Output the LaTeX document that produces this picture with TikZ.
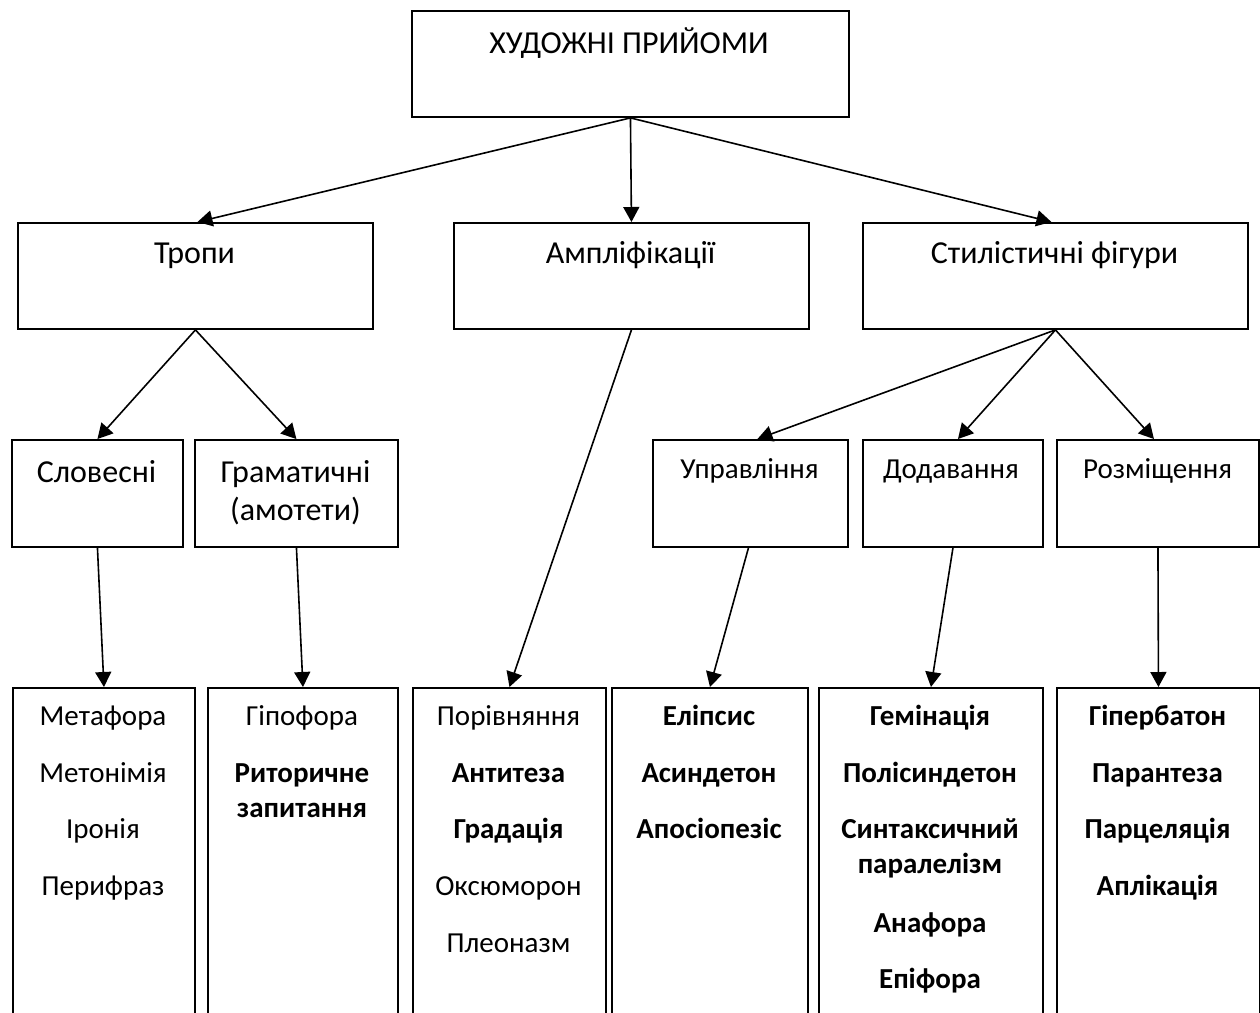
\documentclass[tikz,border=0pt]{standalone}
\usepackage{fontspec}
\setmainfont{Carlito}
\usetikzlibrary{arrows.meta}
\begin{document}
\begin{tikzpicture}[x=1pt,y=-1pt,
  box/.style={draw, line width=1.9pt, rectangle, inner sep=0pt, anchor=north west},
  conn/.style={line width=1.6pt, -{Triangle[length=15pt,width=16pt]}},
  big/.style={font=\fontsize{32}{38}\selectfont, anchor=base, inner sep=0pt},
  mid/.style={font=\fontsize{29}{35}\selectfont, anchor=base, inner sep=0pt},
  itm/.style={font=\fontsize{29}{35}\selectfont, anchor=base, inner sep=0pt},
  itmb/.style={font=\fontsize{29}{35}\selectfont\bfseries, anchor=base, inner sep=0pt}]
\useasboundingbox (0,0) rectangle (1260,1012);
\clip (0,0) rectangle (1260,1012);
\fill[white] (0,0) rectangle (1260,1012);
% boxes
\node[box, minimum width=437pt, minimum height=106pt] (top) at (411,10) {};
\node[box, minimum width=355pt, minimum height=106pt] (trop) at (17,222) {};
\node[box, minimum width=355pt, minimum height=106pt] (ampl) at (453,222) {};
\node[box, minimum width=385pt, minimum height=106pt] (stil) at (862,222) {};
\node[box, minimum width=171pt, minimum height=107pt] (slov) at (11,439) {};
\node[box, minimum width=203pt, minimum height=107pt] (gram) at (194,439) {};
\node[box, minimum width=195pt, minimum height=107pt] (upr) at (652,439) {};
\node[box, minimum width=180pt, minimum height=107pt] (dod) at (862,439) {};
\node[box, minimum width=202pt, minimum height=107pt] (rozm) at (1056,439) {};
\node[box, minimum width=182pt, minimum height=400pt] (b1) at (12,687) {};
\node[box, minimum width=190pt, minimum height=400pt] (b2) at (207,687) {};
\node[box, minimum width=193pt, minimum height=400pt] (b3) at (412,687) {};
\node[box, minimum width=196pt, minimum height=400pt] (b4) at (611,687) {};
\node[box, minimum width=224pt, minimum height=400pt] (b5) at (818,687) {};
\node[box, minimum width=203pt, minimum height=400pt] (b6) at (1056,687) {};
% headings
\node[big] (t-top) at (629,53) {ХУДОЖНІ ПРИЙОМИ};
\node[big] (t-trop) at (194.5,263) {Тропи};
\node[big] (t-ampl) at (630.5,263) {Ампліфікації};
\node[big] (t-stil) at (1054.5,263) {Стилістичні фігури};
\node[big] (t-slov) at (96.5,482) {Словесні};
\node[big] (t-gram1) at (295.5,482) {Граматичні};
\node[big] (t-gram2) at (295.5,520) {(амотети)};
\node[mid] (t-upr) at (749.5,478) {Управління};
\node[mid] (t-dod) at (951,478) {Додавання};
\node[mid] (t-rozm) at (1157.5,478) {Розміщення};
% column 1
\node[itm] (i11) at (103,725) {Метафора};
\node[itm] (i12) at (103,782) {Метонімія};
\node[itm] (i13) at (103,838) {Іронія};
\node[itm] (i14) at (103,895) {Перифраз};
% column 2
\node[itm] (i21) at (302,725) {Гіпофора};
\node[itmb] (i22) at (302,782) {Риторичне};
\node[itmb] (i23) at (302,817) {запитання};
% column 3
\node[itm] (i31) at (508.5,725) {Порівняння};
\node[itmb] (i32) at (508.5,782) {Антитеза};
\node[itmb] (i33) at (508.5,838) {Градація};
\node[itm] (i34) at (508.5,895) {Оксюморон};
\node[itm] (i35) at (508.5,952) {Плеоназм};
% column 4
\node[itmb] (i41) at (709,725) {Еліпсис};
\node[itmb] (i42) at (709,782) {Асиндетон};
\node[itmb] (i43) at (709,838) {Апосіопезіс};
% column 5
\node[itmb] (i51) at (930,725) {Гемінація};
\node[itmb] (i52) at (930,782) {Полісиндетон};
\node[itmb] (i53) at (930,838) {Синтаксичний};
\node[itmb] (i54) at (930,873) {паралелізм};
\node[itmb] (i55) at (930,932) {Анафора};
\node[itmb] (i56) at (930,988) {Епіфора};
% column 6
\node[itmb] (i61) at (1157.5,725) {Гіпербатон};
\node[itmb] (i62) at (1157.5,782) {Парантеза};
\node[itmb] (i63) at (1157.5,838) {Парцеляція};
\node[itmb] (i64) at (1157.5,895) {Аплікація};
% connectors
\draw[conn] (top.south) -- ([xshift=2pt]trop.north);
\draw[conn] (top.south) -- (ampl.north);
\draw[conn] (top.south) -- ([xshift=-4pt]stil.north);
\draw[conn] (trop.south) -- (slov.north);
\draw[conn] (trop.south) -- (gram.north);
\draw[conn] (ampl.south) -- (b3.north);
\draw[conn] (stil.south) -- ([xshift=7pt]upr.north);
\draw[conn] (stil.south) -- ([xshift=5pt]dod.north);
\draw[conn] (stil.south) -- ([xshift=-4pt]rozm.north);
\draw[conn] (slov.south) -- (b1.north);
\draw[conn] (gram.south) -- (b2.north);
\draw[conn] ([xshift=-2pt]upr.south) -- (b4.north);
\draw[conn] (dod.south) -- (b5.north);
\draw[conn] (rozm.south) -- (b6.north);
\end{tikzpicture}
\end{document}
